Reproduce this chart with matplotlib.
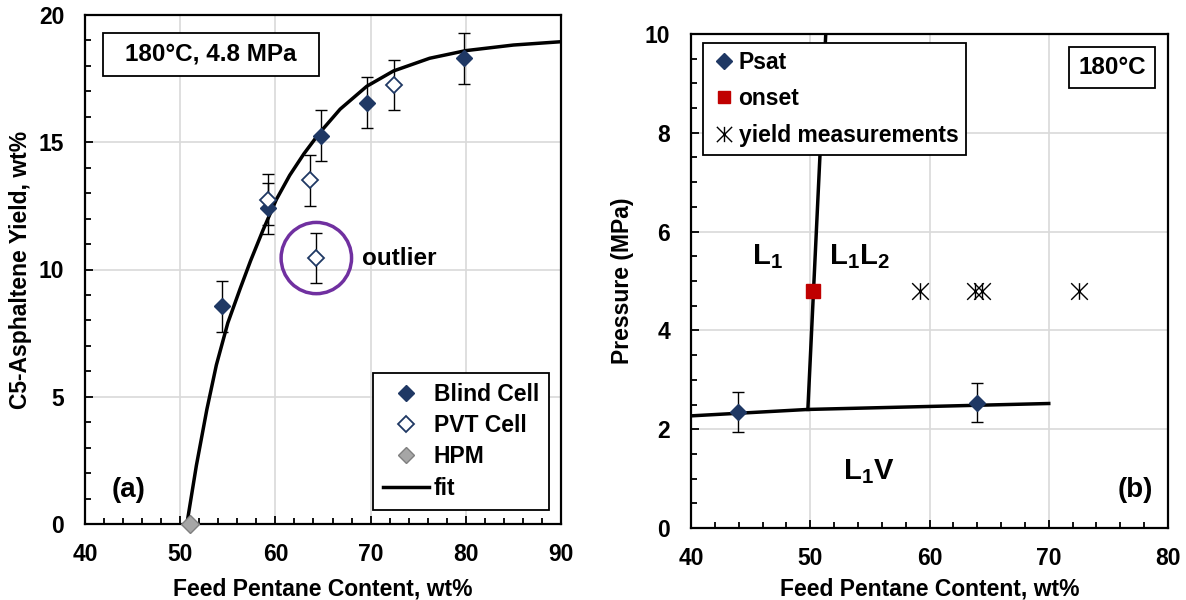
import matplotlib
matplotlib.use("Agg")
import matplotlib.pyplot as plt
from matplotlib.patches import Ellipse, Rectangle
from matplotlib.ticker import MultipleLocator
from matplotlib.lines import Line2D
from matplotlib.path import Path

plt.rcParams['font.family'] = ['Liberation Sans', 'DejaVu Sans']
plt.rcParams['font.weight'] = 'bold'
plt.rcParams['mathtext.fontset'] = 'custom'
plt.rcParams['mathtext.bf'] = 'Liberation Sans:bold'
plt.rcParams['mathtext.rm'] = 'Liberation Sans:bold'
plt.rcParams['mathtext.it'] = 'Liberation Sans:bold'

# ---------------- data: panel (a) ----------------
blind_x = [54.4, 59.2, 64.8, 69.6, 79.8]
blind_y = [8.55, 12.4, 15.25, 16.55, 18.3]
pvt_x = [59.2, 63.6, 72.5]
pvt_y = [12.75, 13.5, 17.25]
outlier_x = [64.3]
outlier_y = [10.45]
hpm_x = [51.0]
hpm_y = [0.0]
yield_err = 1.0
fit_x = [50.7, 51.7, 52.8, 53.8, 55.0, 56.3, 57.4, 58.7, 60.1, 61.5, 63.0,
         64.6, 66.8, 69.6, 72.4, 76.2, 80.0, 85.0, 90.0]
fit_y = [0.0, 2.3, 4.5, 6.25, 7.9, 9.25, 10.35, 11.55, 12.75, 13.7, 14.55,
         15.35, 16.3, 17.2, 17.8, 18.3, 18.6, 18.82, 18.95]

# ---------------- data: panel (b) ----------------
psat_x = [43.9, 63.95]
psat_y = [2.35, 2.54]
psat_err = 0.4
onset_x = [50.25]
onset_y = [4.8]
yieldmeas_x = [59.2, 63.8, 64.4, 72.5]
yieldmeas_y = [4.8, 4.8, 4.8, 4.8]
vle_x = [40.0, 49.8, 70.0]
vle_y = [2.27, 2.40, 2.52]
lle_x = [49.8, 51.3]
lle_y = [2.40, 10.0]

NAVY = '#1F3864'
GRID = '#D9D9D9'
FS = 16.5

# asterisk marker: X with a vertical bar
STAR = Path([(-1, -1), (1, 1), (-1, 1), (1, -1), (0, -1), (0, 1)],
            [Path.MOVETO, Path.LINETO, Path.MOVETO, Path.LINETO,
             Path.MOVETO, Path.LINETO])

W, H = 1186, 600
fig = plt.figure(figsize=(W / 100, H / 100), dpi=100)

def frac(l, r, t, b):
    return [l / W, 1 - b / H, (r - l) / W, (b - t) / H]

def style_axes(ax):
    for s in ax.spines.values():
        s.set_linewidth(1.6)
        s.set_color('black')
    ax.grid(True, which='major', color=GRID, lw=1.2)
    ax.set_axisbelow(True)
    ax.tick_params(which='both', direction='in', top=False, right=False,
                   labelsize=FS, width=1.3, colors='black')
    ax.tick_params(which='major', length=6)
    ax.tick_params(which='minor', length=4)
    ax.tick_params(axis='y', pad=15)
    ax.tick_params(axis='x', pad=14)
    for lab in ax.get_xticklabels() + ax.get_yticklabels():
        lab.set_fontweight('bold')

def pix_box(ax, l, r, t, b, axl, axr, axt, axb):
    """rectangle given in figure pixels, converted to axes fraction"""
    x0 = (l - axl) / (axr - axl)
    y0 = (axb - b) / (axb - axt)
    w = (r - l) / (axr - axl)
    h = (b - t) / (axb - axt)
    ax.add_patch(Rectangle((x0, y0), w, h, transform=ax.transAxes, fc='white',
                           ec='black', lw=1.3, zorder=7))
    return x0 + w / 2, y0 + h / 2

# ---------------- panel (a) ----------------
A = (85, 561, 15, 524)
ax1 = fig.add_axes(frac(*A))
ax1.set_xlim(40, 90)
ax1.set_ylim(0, 20)
ax1.xaxis.set_major_locator(MultipleLocator(10))
ax1.xaxis.set_minor_locator(MultipleLocator(2))
ax1.yaxis.set_major_locator(MultipleLocator(5))
ax1.yaxis.set_minor_locator(MultipleLocator(1))
style_axes(ax1)

ax1.plot(fit_x, fit_y, color='black', lw=2.5, zorder=3, solid_joinstyle='round')
eb = dict(fmt='none', ecolor='black', elinewidth=1, capsize=4, capthick=1, zorder=4)
ax1.errorbar(blind_x, blind_y, yerr=yield_err, **eb)
ax1.errorbar(pvt_x, pvt_y, yerr=yield_err, **eb)
ax1.errorbar(outlier_x, outlier_y, yerr=yield_err, **eb)
ax1.plot(blind_x, blind_y, 'D', color=NAVY, ms=8, zorder=5)
ax1.plot(pvt_x + outlier_x, pvt_y + outlier_y, 'D', mfc='white', mec=NAVY,
         mew=1.3, ms=8, zorder=5)
ax1.plot(hpm_x, hpm_y, 'D', mfc='#A6A6A6', mec='#7F7F7F', mew=1, ms=9.5,
         zorder=6, clip_on=False)

ax1.add_patch(Ellipse((outlier_x[0], outlier_y[0]), 7.4, 2.8, fill=False,
                      ec='#7030A0', lw=2.5, zorder=6))
ax1.text(69.1, 10.45, 'outlier', fontsize=17.5, fontweight='bold', va='center')

cx, cy = pix_box(ax1, 103, 319, 33, 76, *A)
ax1.text(cx, cy, '180°C, 4.8 MPa', transform=ax1.transAxes, fontsize=17.5,
         fontweight='bold', ha='center', va='center', zorder=8)
ax1.text((129 - 85) / 476, 1 - (490 - 15) / 509, '(a)', transform=ax1.transAxes,
         fontsize=20, fontweight='bold', ha='center', va='center')

handles1 = [
    Line2D([], [], ls='none', marker='D', color=NAVY, ms=8),
    Line2D([], [], ls='none', marker='D', mfc='white', mec=NAVY, mew=1.3, ms=8),
    Line2D([], [], ls='none', marker='D', mfc='#A6A6A6', mec='#7F7F7F', ms=8),
    Line2D([], [], color='black', lw=2.5),
]
leg1 = ax1.legend(handles1, ['Blind Cell', 'PVT Cell', 'HPM', 'fit'],
                  loc='lower right', bbox_to_anchor=(0.975, 0.0275),
                  prop=dict(size=FS, weight='bold'), frameon=True, fancybox=False,
                  edgecolor='black', framealpha=1, handlelength=2.0,
                  handletextpad=0.2, labelspacing=0.36, borderpad=0.45,
                  borderaxespad=0)
leg1.get_frame().set_linewidth(1.3)

ax1.set_xlabel('Feed Pentane Content, wt%', fontsize=FS, fontweight='bold', labelpad=8)
ax1.set_ylabel('C5-Asphaltene Yield, wt%', fontsize=FS, fontweight='bold', labelpad=5)

# ---------------- panel (b) ----------------
B = (691, 1168, 34, 528)
ax2 = fig.add_axes(frac(*B))
ax2.set_xlim(40, 80)
ax2.set_ylim(0, 10)
ax2.xaxis.set_major_locator(MultipleLocator(10))
ax2.xaxis.set_minor_locator(MultipleLocator(2))
ax2.yaxis.set_major_locator(MultipleLocator(2))
ax2.yaxis.set_minor_locator(MultipleLocator(0.5))
style_axes(ax2)

ax2.plot(vle_x, vle_y, color='black', lw=2.5, zorder=3)
ax2.plot(lle_x, lle_y, color='black', lw=2.5, zorder=3)
ax2.errorbar(psat_x, psat_y, yerr=psat_err, **eb)
ax2.plot(psat_x, psat_y, 'D', color=NAVY, ms=8.2, zorder=5)
ax2.plot(onset_x, onset_y, 's', color='#C00000', ms=9.5, zorder=5)
ax2.plot(yieldmeas_x, yieldmeas_y, ls='none', marker=STAR, color='black',
         ms=12, mew=1, zorder=5)

ax2.text(46.4, 5.5, r'$\mathbf{L}_\mathbf{1}$', fontsize=21, ha='center', va='center')
ax2.text(54.1, 5.5, r'$\mathbf{L}_\mathbf{1}\mathbf{L}_\mathbf{2}$', fontsize=21,
         ha='center', va='center')
ax2.text(54.9, 1.15, r'$\mathbf{L}_\mathbf{1}\mathbf{V}$', fontsize=21,
         ha='center', va='center')

cx, cy = pix_box(ax2, 1069, 1155, 47, 88, *B)
ax2.text(cx, cy, '180°C', transform=ax2.transAxes, fontsize=17.5,
         fontweight='bold', ha='center', va='center', zorder=8)
ax2.text((1135 - 691) / 477, 1 - (490 - 34) / 494, '(b)', transform=ax2.transAxes,
         fontsize=20, fontweight='bold', ha='center', va='center')

handles2 = [
    Line2D([], [], ls='none', marker='D', color=NAVY, ms=8),
    Line2D([], [], ls='none', marker='s', color='#C00000', ms=9),
    Line2D([], [], ls='none', marker=STAR, color='black', ms=11, mew=1),
]
leg2 = ax2.legend(handles2, ['Psat', 'onset', 'yield measurements'],
                  loc='upper left', bbox_to_anchor=((703 - 691) / 477, 1 - (43 - 34) / 494),
                  prop=dict(size=FS, weight='bold'), frameon=True, fancybox=False,
                  edgecolor='black', framealpha=1, handlelength=1.15,
                  handletextpad=0.05, labelspacing=0.58, borderpad=0.35,
                  borderaxespad=0)
leg2.get_frame().set_linewidth(1.3)

ax2.set_xlabel('Feed Pentane Content, wt%', fontsize=FS, fontweight='bold', labelpad=5)
ax2.set_ylabel('Pressure (MPa)', fontsize=FS, fontweight='bold', labelpad=8)

fig.savefig('out.png', dpi=100)
